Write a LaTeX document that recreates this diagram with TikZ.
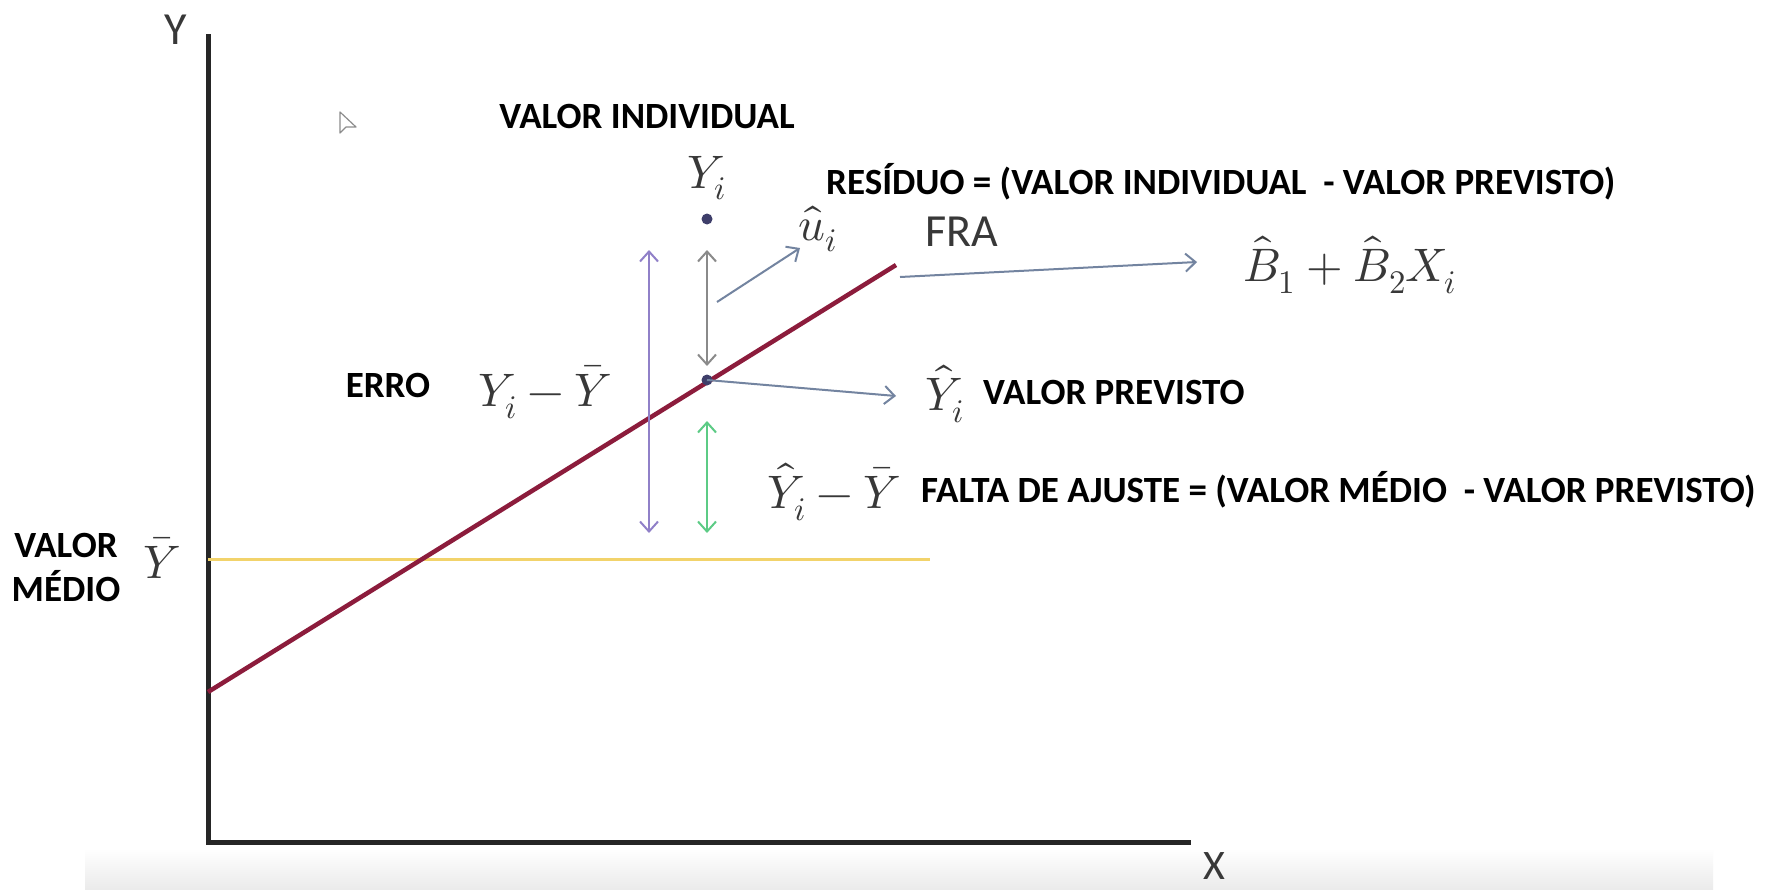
\documentclass[tikz,border=0pt]{standalone}
\usepackage{fontspec}
\usepackage{unicode-math}
\setmainfont{Carlito}
\setmathfont{Latin Modern Math}
\usetikzlibrary{arrows.meta}
\definecolor{fra}{HTML}{8C1C3C}
\definecolor{ymed}{HTML}{F2D36B}
\definecolor{purp}{HTML}{9080C8}
\definecolor{grn}{HTML}{5CCB85}
\definecolor{slate}{HTML}{7384A0}
\definecolor{graya}{HTML}{8A8A8A}
\definecolor{mathgray}{HTML}{383838}
\definecolor{dotc}{HTML}{3E3E6A}
\tikzset{
  lbl/.style={font=\fontsize{37}{44}\selectfont\bfseries, inner sep=0pt, text=black},
  mth/.style={font=\fontsize{47}{52}\selectfont, inner sep=0pt, text=mathgray},
  axl/.style={font=\fontsize{46}{50}\selectfont, inner sep=0pt, text=mathgray},
  axis/.style={line width=5pt, black!85},
  dotn/.style={circle, fill=dotc, minimum size=11pt, inner sep=0pt},
  harr/.style={line width=2pt, {Straight Barb[length=10pt,width=18pt]}-{Straight Barb[length=10pt,width=18pt]}},
  sarr/.style={line width=2pt, slate, -{Straight Barb[length=10pt,width=18pt]}},
}
\begin{document}
\begin{tikzpicture}[x=1pt,y=-1pt]
\useasboundingbox (0,0) rectangle (1779,889);
\fill[white] (0,0) rectangle (1779,889);
\shade[top color=white, bottom color=black!8] (85,848) rectangle (1713,889);

% axes
\coordinate (o) at (208,842);
\coordinate (ytop) at (208,34);
\coordinate (xend) at (1191,842);
\draw[axis] (ytop) -- (o) -- (xend);
\node[axl] (ylab) at (176,30) {Y};
\node[axl, font=\fontsize{42}{46}\selectfont] (xlab) at (1214,866) {X};

% mouse pointer
\draw[black!45, line width=1.2pt, line join=round] (340,112) -- (340,133) -- (346,127) -- (356,127) -- cycle;

% mean line
\coordinate (y0) at (208,559);
\coordinate (y1) at (930,559);
\draw[line width=3pt, ymed] (y0) -- (y1);

% regression line
\coordinate (r0) at (208,692);
\coordinate (r1) at (896,265);
\draw[line width=4.5pt, fra] (r0) -- (r1);

% points
\node[dotn] (yi) at (707,219) {};
\node[dotn] (yh) at (707,380) {};

% vertical arrows
\coordinate (p0) at (649,250);
\coordinate (p1) at (649,533);
\draw[harr, purp] (p0) -- (p1);
\coordinate (g0) at (707,250);
\coordinate (g1) at (707,366);
\draw[harr, graya] (g0) -- (g1);
\coordinate (e0) at (707,421);
\coordinate (e1) at (707,533);
\draw[harr, grn] (e0) -- (e1);

% labels
\node[lbl] (vind) at (647,117) {VALOR INDIVIDUAL};
\node[mth] (yilab) at (707,178) {$Y_i$};
\node[lbl, anchor=west] (res) at (826,182) {RESÍDUO = (VALOR INDIVIDUAL \ - VALOR PREVISTO)};
\node[mth] (ulab) at (818,229) {$\hat{u}_i$};
\node[axl] (fra) at (962,232) {FRA};
\node[mth] (bexpr) at (1350,265) {$\hat{B}_1+\hat{B}_2X_i$};
\node[lbl] (erro) at (388,385) {ERRO};
\node[mth] (dev) at (545,392) {$Y_i-\bar{Y}$};
\node[mth] (yhlab) at (945,394) {$\hat{Y}_i$};
\node[lbl, anchor=west] (vprev) at (983,392) {VALOR PREVISTO};
\node[mth] (fit) at (834,492) {$\hat{Y}_i-\bar{Y}$};
\node[lbl, anchor=west] (falta) at (921,490) {FALTA DE AJUSTE = (VALOR MÉDIO \ - VALOR PREVISTO)};
\node[mth] (ybar) at (162,558) {$\bar{Y}$};
\node[lbl, align=center] (vmed) at (66,567) {VALOR\\MÉDIO};

% slanted arrows
\coordinate (ua) at (717,302);
\coordinate (ub) at (800,248);
\draw[sarr] (ua) -- (ub);
\coordinate (fa) at (900,277);
\coordinate (fb) at (1197,262);
\draw[sarr] (fa) -- (fb);
\coordinate (hb) at (896,396);
\draw[sarr] (yh.center) -- (hb);
\end{tikzpicture}
\end{document}
